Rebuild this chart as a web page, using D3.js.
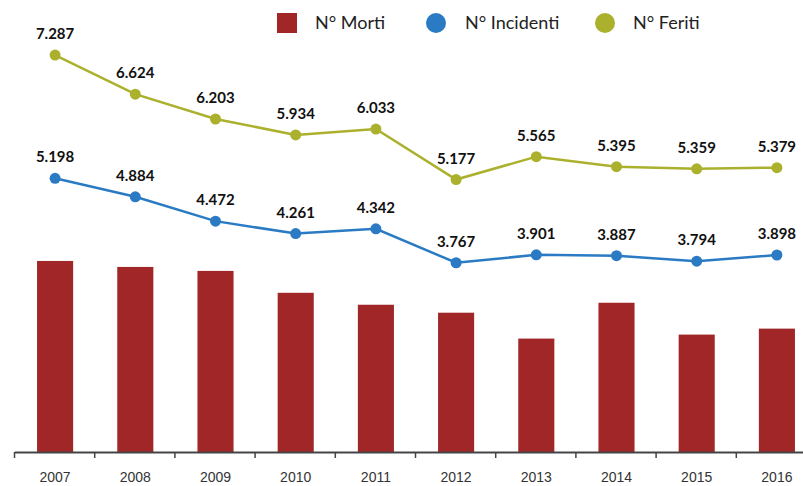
<!DOCTYPE html>
<html>
<head>
<meta charset="utf-8">
<script src="https://d3js.org/d3.v7.min.js"></script>
<style>
    body { margin: 0; background: #fff; }
    .tick text { font-family: "Liberation Sans", Arial, sans-serif; font-size: 14px; fill: #333; }
    .valLabel { font-family: Lato, "Open Sans", sans-serif; font-weight: bold; font-size: 15px; fill: #111; }
    .legendText { font-family: Lato, "Open Sans", sans-serif; font-size: 18px; fill: #222; }
</style>
</head>
<body>
<script>
//data
var years = ["2007", "2008", "2009", "2010", "2011", "2012", "2013", "2014", "2015", "2016"];
var morti = [96, 93, 91, 80, 74, 70, 57, 75, 59, 62];
var incidenti = [5198, 4884, 4472, 4261, 4342, 3767, 3901, 3887, 3794, 3898];
var feriti = [7287, 6624, 6203, 5934, 6033, 5177, 5565, 5395, 5359, 5379];
var seriesNames = ["N° Morti", "N° Incidenti", "N° Feriti"];

window.onload = function(){

    var w = 803,
        h = 486;

    var colMorti = "#a02628",
        colInc = "#2a7bc4",
        colFer = "#abb12d";

    var svg = d3.select("body")
        .append("svg")
        .attr("width", w)
        .attr("height", h);

    //x scale for categories
    var x = d3.scaleBand()
        .domain(years)
        .range([15, 817])
        .paddingInner(0.55)
        .paddingOuter(0.275);

    //bar scale
    var yBar = d3.scaleLinear()
        .domain([0, 100])
        .range([452, 253]);

    //line scale (shared by both lines)
    var yLine = d3.scaleLinear()
        .domain([0, 8220])
        .range([485, 0]);

    //bars
    svg.selectAll(".bar")
        .data(morti)
        .enter()
        .append("rect")
        .attr("class", "bar")
        .attr("x", function(d, i){ return x(years[i]); })
        .attr("width", x.bandwidth())
        .attr("y", function(d){ return yBar(d); })
        .attr("height", function(d){ return yBar(0) - yBar(d); })
        .style("fill", colMorti);

    //x axis: line plus ticks at category boundaries
    var axisG = svg.append("g").attr("class", "axis");
    axisG.append("line")
        .attr("x1", 15).attr("x2", w)
        .attr("y1", yBar(0) + 0.5).attr("y2", yBar(0) + 0.5)
        .style("stroke", "#444").style("stroke-width", 2);
    axisG.selectAll(".tk")
        .data(years)
        .enter()
        .append("line")
        .attr("x1", function(d){ return x(d) - x.step() * 0.275 - 0.5; })
        .attr("x2", function(d){ return x(d) - x.step() * 0.275 - 0.5; })
        .attr("y1", yBar(0))
        .attr("y2", yBar(0) + 6)
        .style("stroke", "#444").style("stroke-width", 1.5);
    axisG.selectAll(".tick")
        .data(years)
        .enter()
        .append("g")
        .attr("class", "tick")
        .append("text")
        .attr("text-anchor", "middle")
        .attr("x", function(d){ return x(d) + x.bandwidth() / 2; })
        .attr("y", 482)
        .text(function(d){ return d; });

    var fmt = function(v){ return d3.format(",")(v).replace(/,/g, "."); };

    //line drawing helper
    function drawSeries(values, color){
        var line = d3.line()
            .x(function(d, i){ return x(years[i]) + x.bandwidth() / 2; })
            .y(function(d){ return yLine(d); });

        svg.append("path")
            .datum(values)
            .attr("d", line)
            .style("fill", "none")
            .style("stroke", color)
            .style("stroke-width", 2.5);

        svg.append("g").selectAll("circle")
            .data(values)
            .enter()
            .append("circle")
            .attr("cx", function(d, i){ return x(years[i]) + x.bandwidth() / 2; })
            .attr("cy", function(d){ return yLine(d); })
            .attr("r", 5.5)
            .style("fill", color);

        svg.append("g").selectAll("text")
            .data(values)
            .enter()
            .append("text")
            .attr("class", "valLabel")
            .attr("text-anchor", "middle")
            .attr("x", function(d, i){ return x(years[i]) + x.bandwidth() / 2; })
            .attr("y", function(d){ return yLine(d) - 16; })
            .text(function(d){ return fmt(d); });
    }

    drawSeries(feriti, colFer);
    drawSeries(incidenti, colInc);

    //legend
    var legend = svg.append("g").attr("class", "legend");
    legend.append("rect")
        .attr("x", 277).attr("y", 13)
        .attr("width", 20).attr("height", 20)
        .style("fill", colMorti);
    legend.append("circle")
        .attr("cx", 436).attr("cy", 23).attr("r", 10)
        .style("fill", colInc);
    legend.append("circle")
        .attr("cx", 605).attr("cy", 23).attr("r", 10)
        .style("fill", colFer);
    var legX = [315, 465, 633];
    legend.selectAll(".legendText")
        .data(seriesNames)
        .enter()
        .append("text")
        .attr("class", "legendText")
        .attr("x", function(d, i){ return legX[i]; })
        .attr("y", 29)
        .text(function(d){ return d; });
};
</script>
</body>
</html>
